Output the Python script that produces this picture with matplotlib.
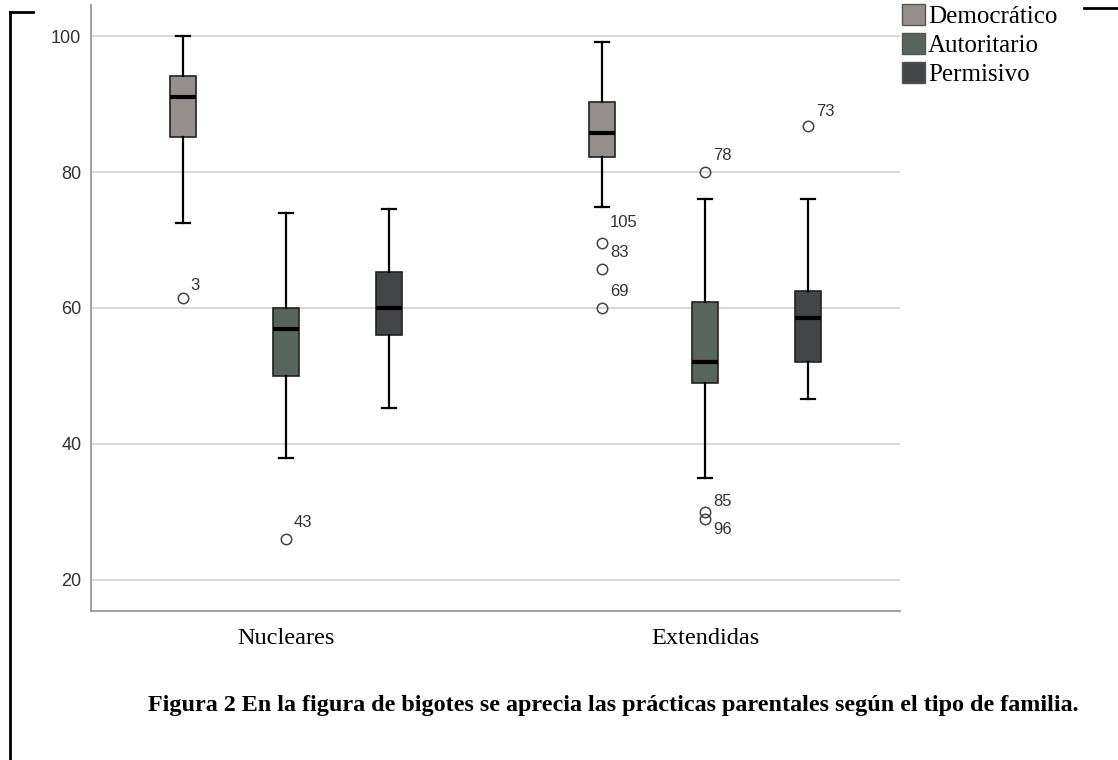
import matplotlib
matplotlib.use("Agg")
import matplotlib.pyplot as plt
from matplotlib.lines import Line2D
from matplotlib.patches import Patch

# datos (escala 0-100)
familias = ["Nucleares", "Extendidas"]
practicas = ["Democrático", "Autoritario", "Permisivo"]
colores = ["#948f8c", "#59645e", "#444547"]

# [bigote inferior, Q1, mediana, Q3, bigote superior]
nucleares = [
    [72.5, 85.1, 91.0, 94.1, 100.0],
    [37.9, 50.0, 56.9, 60.0, 74.0],
    [45.3, 56.0, 60.0, 65.3, 74.6],
]
extendidas = [
    [74.8, 82.2, 85.8, 90.3, 99.1],
    [35.0, 49.0, 52.0, 60.9, 76.0],
    [46.6, 52.0, 58.6, 62.5, 76.0],
]
# valores atípicos (valor, caso)
atip_nucleares = [[(61.5, "3")], [(26.0, "43")], []]
atip_extendidas = [[(69.6, "105"), (65.8, "83"), (60.0, "69")],
                   [(80.0, "78"), (30.0, "85"), (29.0, "96")],
                   [(86.7, "73")]]

# desplazamiento de las etiquetas en pixeles
desp = {"3": (8, 12), "43": (8, 17), "105": (8, 20), "83": (8, 16), "69": (8, 17),
        "78": (8, 17), "85": (8, 10), "96": (8, -11), "73": (8, 15)}

fig = plt.figure(figsize=(11.18, 7.6), dpi=100)
ax = fig.add_axes([91/1118, 1-611/760, (900-91)/1118, (611-5)/760])

off = 0.246
ancho = 0.062
for g, (stats_g, atip_g) in enumerate([(nucleares, atip_nucleares), (extendidas, atip_extendidas)]):
    for k in range(3):
        lo, q1, med, q3, hi = stats_g[k]
        pos = g + (k - 1) * off
        st = dict(whislo=lo, q1=q1, med=med, q3=q3, whishi=hi,
                  fliers=[v for v, _ in atip_g[k]])
        ax.bxp([st], positions=[pos], widths=ancho, patch_artist=True,
               showfliers=True, capwidths=0.032,
               boxprops=dict(facecolor=colores[k], edgecolor="#222222", linewidth=1.2),
               medianprops=dict(color="black", linewidth=3),
               whiskerprops=dict(color="black", linewidth=1.6),
               capprops=dict(color="black", linewidth=1.6),
               flierprops=dict(marker="o", markersize=7.5, markerfacecolor="none",
                               markeredgecolor="#444444", markeredgewidth=1.1),
               zorder=3)
        for v, lab in atip_g[k]:
            dx, dy = desp[lab]
            ax.annotate(lab, (pos, v), xytext=(dx, dy), textcoords="offset pixels",
                        ha="left", va="center", fontsize=12, color="#333333",
                        family="Liberation Sans")

ax.set_xlim(-0.465, 1.465)
ax.set_ylim(15.44, 104.56)
ax.set_yticks([20, 40, 60, 80, 100])
ax.set_xticks([0, 1])
ax.set_xticklabels(familias, family="Liberation Serif", fontsize=17.5)
for t in ax.get_yticklabels():
    t.set_family("Liberation Sans")
    t.set_fontsize(13)
    t.set_color("#333333")
ax.tick_params(length=0)
ax.tick_params(axis="y", pad=7)
ax.tick_params(axis="x", pad=12)
ax.grid(axis="y", color="#d6d6d6", linewidth=1.3, zorder=0)
ax.set_axisbelow(True)
for s in ["top", "right"]:
    ax.spines[s].set_visible(False)
for s in ["left", "bottom"]:
    ax.spines[s].set_color("#999999")
    ax.spines[s].set_linewidth(1.3)

handles = [Patch(facecolor=c, edgecolor="#555555", linewidth=1) for c in colores]
fig.legend(handles, practicas, loc="upper left", bbox_to_anchor=(902/1118, 1-4/760),
           frameon=False, prop={"family": "Liberation Serif", "size": 18},
           handlelength=0.9, handleheight=0.9, handletextpad=0.15,
           labelspacing=0.2, borderpad=0, borderaxespad=0)

fig.text(148/1118, 1-705/760,
         "Figura 2 En la figura de bigotes se aprecia las prácticas parentales según el tipo de familia.",
         ha="left", va="center", fontsize=17.4, fontweight="bold", family="Liberation Serif")

# marco del documento
fig.add_artist(Line2D([10/1118, 10/1118], [0, 1-12/760], color="black", linewidth=2,
                      transform=fig.transFigure))
fig.add_artist(Line2D([10/1118, 33/1118], [1-12/760, 1-12/760], color="black", linewidth=2,
                      transform=fig.transFigure))
fig.add_artist(Line2D([1084/1118, 1], [1-8/760, 1-8/760], color="black", linewidth=2,
                      transform=fig.transFigure))

fig.savefig("out.png", dpi=100)
